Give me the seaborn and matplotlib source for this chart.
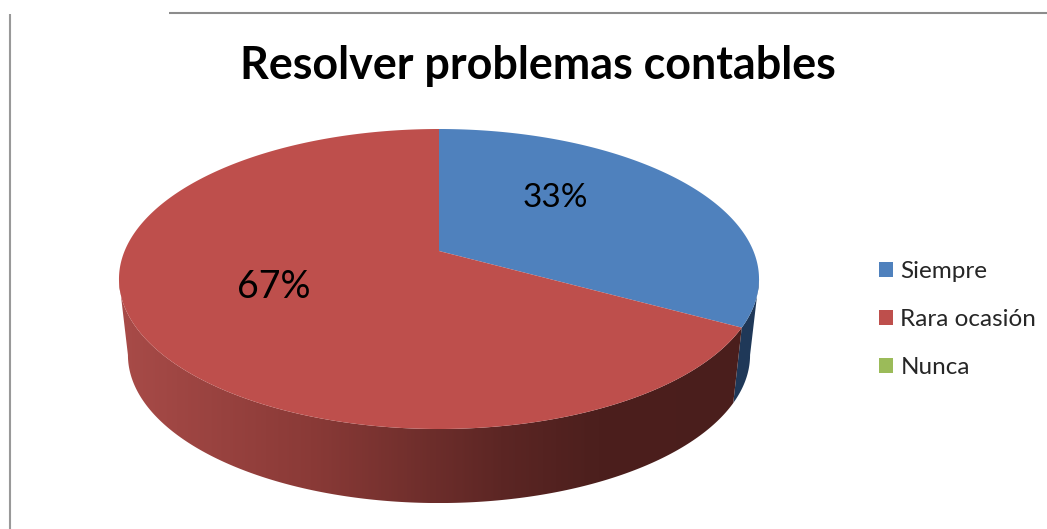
import numpy as np
import matplotlib
matplotlib.use("Agg")
import matplotlib.pyplot as plt
import seaborn as sns
from matplotlib.colors import LinearSegmentedColormap
from matplotlib.patches import Polygon
from matplotlib.path import Path
from matplotlib.transforms import Transform

# data
title = "Resolver problemas contables"
categories = ["Siempre", "Rara ocasión", "Nunca"]
values = [33, 67, 0]
colors = ["#4f81bd", "#be4f4c", "#9bbb59"]

TILT = 0.1867


# tilted disc: unit circle of the pie -> pixels, with the perspective of the 3D chart
class TiltedDisc(Transform):
    input_dims = 2
    output_dims = 2

    def __init__(self, cx, cy, sx=1.0, sy=1.0):
        super().__init__()
        self.cx, self.cy, self.sx, self.sy = cx, cy, sx, sy

    def transform_non_affine(self, values):
        pts = np.asarray(values, dtype=float)
        d = 1 + TILT * pts[:, 1]
        x = 314.4 * pts[:, 0] / d
        y = (150 * pts[:, 1] + 28) / d
        return np.column_stack([self.cx + self.sx * x, self.cy - self.sy * y])

    def transform_path_non_affine(self, path):
        # curves do not survive a projection, so sample them first
        pts = [seg(np.linspace(0, 1, 40)) for seg, _ in path.iter_bezier()]
        return Path(self.transform_non_affine(np.vstack(pts)))


sns.set_theme(style="white")
plt.rcParams["font.family"] = ["Lato", "DejaVu Sans"]

fig = plt.figure(figsize=(10.47, 5.29), dpi=100)
ax = fig.add_axes([0, 0, 1, 1])
palette = sns.color_palette(colors)

wedges, _, autotexts = ax.pie(
    values,
    colors=palette,
    startangle=90,
    counterclock=False,
    autopct=lambda p: f"{p:.0f}%" if p > 0 else "",
    wedgeprops={"linewidth": 0},
    textprops={"color": "black"},
)

top = TiltedDisc(439, 279)
bottom = TiltedDisc(439, 355, sx=0.972, sy=0.987)
for w in wedges:
    w.set_transform(top + ax.transData)
    w.set_zorder(3)


def side_wall(wedge):
    # only the front of the rim shows: keep the arc between the two silhouette points
    edge = np.degrees(np.arcsin(TILT))
    a, b = np.clip([wedge.theta1, wedge.theta2], -180 + edge, -edge)
    t = np.radians(np.linspace(a, b, 200))
    rim = np.column_stack([np.cos(t), np.sin(t)])
    return np.vstack([top.transform_non_affine(rim), bottom.transform_non_affine(rim)[::-1]])


ax.add_patch(Polygon(side_wall(wedges[0]), facecolor="#1f3858", edgecolor="none", zorder=1))
shade = LinearSegmentedColormap.from_list(
    "red_side", [(0, "#a84b48"), (0.3, "#8a3a37"), (0.6, "#5c2624"), (0.75, "#4c1f1d"), (1, "#4a1e1c")]
)
im = ax.imshow(np.linspace(0, 1, 300)[None, :], extent=(119, 758, 503, 129), aspect="auto", cmap=shade, zorder=2)
im.set_clip_path(Polygon(side_wall(wedges[1]), transform=ax.transData))

# percent labels, the 67% is set larger than the 33% in the original
label_pos = [(555, 198), (274, 287), (0, 0)]
label_size = [24, 27, 10]
for txt, pos, size in zip(autotexts, label_pos, label_size):
    txt.set_position(pos)
    txt.set_fontsize(size)
    txt.set_zorder(4)

ax.text(538, 66, title, ha="center", va="center", fontsize=32.3, fontweight="bold", color="black")

ax.legend(
    wedges,
    categories,
    loc="upper left",
    bbox_to_anchor=(872 / 1047, 1 - 254 / 529),
    frameon=False,
    fontsize=17.5,
    handlelength=0.58,
    handleheight=0.58,
    handletextpad=0.29,
    labelspacing=1.1,
    borderpad=0.3,
    borderaxespad=0,
)

# frame pieces left over from the document page
ax.plot([10, 10], [14, 529], color="#999999", lw=1.5, solid_capstyle="butt", zorder=1)
ax.plot([169, 1047], [13, 13], color="#8c8c8c", lw=1.5, solid_capstyle="butt", zorder=1)

ax.set_aspect("auto")
ax.set_xlim(0, 1047)
ax.set_ylim(529, 0)
ax.axis("off")

fig.savefig("out.png", dpi=100)
